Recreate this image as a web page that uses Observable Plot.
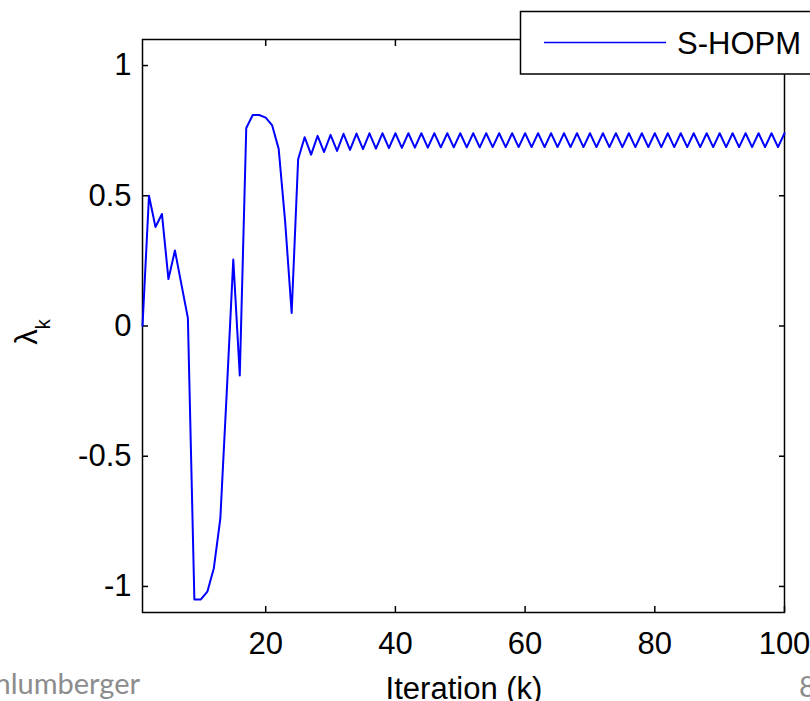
<!DOCTYPE html>
<html>
<head>
<meta charset="utf-8">
<script src="https://cdn.jsdelivr.net/npm/d3@7"></script>
<script src="https://cdn.jsdelivr.net/npm/@observablehq/plot@0.6"></script>
<style>
  html, body { margin: 0; padding: 0; background: #fff; overflow: hidden; }
  #chart { width: 810px; height: 701px; }
</style>
</head>
<body>
<div id="chart"></div>
<script>
// Iteration index k (1..100)
const iterations = d3.range(1, 101);
// S-HOPM lambda_k values
const lambdaValues = [
  0.00, 0.50, 0.38, 0.43, 0.18, 0.29, 0.16, 0.03, -1.05, -1.05,
  -1.02, -0.93, -0.74, -0.25, 0.255, -0.19, 0.76, 0.81, 0.81, 0.80,
  0.77, 0.68, 0.40, 0.05, 0.64, 0.725, 0.658, 0.730, 0.668, 0.734,
  0.672, 0.738, 0.676, 0.739, 0.679, 0.740, 0.681, 0.740, 0.683, 0.740,
  0.684, 0.740, 0.685, 0.740, 0.685, 0.740, 0.686, 0.740, 0.686, 0.740,
  0.686, 0.740, 0.686, 0.740, 0.687, 0.740, 0.687, 0.740, 0.687, 0.740,
  0.687, 0.740, 0.687, 0.740, 0.687, 0.740, 0.687, 0.740, 0.687, 0.740,
  0.687, 0.740, 0.687, 0.740, 0.687, 0.740, 0.687, 0.740, 0.687, 0.740,
  0.687, 0.740, 0.687, 0.740, 0.687, 0.740, 0.687, 0.740, 0.687, 0.740,
  0.687, 0.740, 0.687, 0.740, 0.687, 0.740, 0.687, 0.740, 0.687, 0.740
];
const xTicks = [20, 40, 60, 80, 100];
const yTicks = [-1, -0.5, 0, 0.5, 1];
const seriesName = "S-HOPM";
const xLabel = "Iteration (k)";
const footerLeft = "Schlumberger";
const footerRight = "8";

const data = iterations.map((k, i) => ({k, v: lambdaValues[i]}));

const fontFamily = "'Liberation Sans', Arial, sans-serif";

const chart = Plot.plot({
  width: 810,
  height: 701,
  marginLeft: 142,
  marginRight: 26,
  marginTop: 39,
  marginBottom: 89,
  style: {fontFamily, fontSize: "31px", color: "#000", background: "#fff"},
  x: {domain: [1, 100]},
  y: {domain: [-1.1, 1.1]},
  marks: [
    Plot.frame({stroke: "#000", strokeWidth: 1.5}),
    Plot.axisX(xTicks, {anchor: "bottom", tickSize: -6, tickPadding: 25, tickFormat: d => String(d), label: null, strokeWidth: 1.5}),
    Plot.axisX(xTicks, {anchor: "top", tickSize: -6, tickFormat: () => "", label: null, strokeWidth: 1.5}),
    Plot.axisY(yTicks, {anchor: "left", tickSize: -6, tickPadding: 17, tickFormat: d => String(d), label: null, strokeWidth: 1.5}),
    Plot.axisY(yTicks, {anchor: "right", tickSize: -6, tickFormat: () => "", label: null, strokeWidth: 1.5}),
    Plot.line(data, {x: "k", y: "v", stroke: "#0000ff", strokeWidth: 2})
  ]
});

document.getElementById("chart").appendChild(chart);

const svg = d3.select(chart);

// y-axis label: lambda with subscript k
const yl = svg.append("text")
  .attr("transform", "translate(37,332) rotate(-90)")
  .attr("text-anchor", "middle")
  .attr("font-family", fontFamily)
  .attr("font-size", 31)
  .attr("fill", "#000");
yl.append("tspan").text("λ");
yl.append("tspan").attr("dy", 13).attr("font-size", 20).text("k");

// x-axis label
svg.append("text")
  .attr("x", 464).attr("y", 699)
  .attr("text-anchor", "middle")
  .attr("font-family", fontFamily)
  .attr("font-size", 31)
  .attr("fill", "#000")
  .text(xLabel);

// footer texts (slide remnants)
svg.append("text")
  .attr("x", 140).attr("y", 694)
  .attr("text-anchor", "end")
  .attr("font-family", "Lato, 'Open Sans', sans-serif")
  .attr("font-size", 29)
  .attr("fill", "#8c8c8c")
  .text(footerLeft);
svg.append("text")
  .attr("x", 799).attr("y", 697)
  .attr("text-anchor", "start")
  .attr("font-family", "Lato, 'Open Sans', sans-serif")
  .attr("font-size", 29)
  .attr("fill", "#8c8c8c")
  .text(footerRight);

// legend box
const lg = svg.append("g");
lg.append("rect")
  .attr("x", 520.5).attr("y", 11.5)
  .attr("width", 320).attr("height", 62.5)
  .attr("fill", "#fff").attr("stroke", "#000").attr("stroke-width", 1.5);
lg.append("line")
  .attr("x1", 544).attr("x2", 666).attr("y1", 42.5).attr("y2", 42.5)
  .attr("stroke", "#0000ff").attr("stroke-width", 1.5);
lg.append("text")
  .attr("x", 677).attr("y", 54)
  .attr("text-anchor", "start")
  .attr("font-family", fontFamily)
  .attr("font-size", 31)
  .attr("fill", "#000")
  .text(seriesName);
</script>
</body>
</html>
